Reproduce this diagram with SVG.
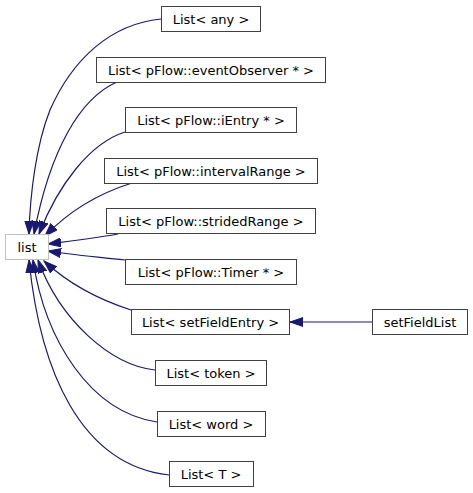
<svg xmlns="http://www.w3.org/2000/svg" width="473" height="493" viewBox="0 0 473 493">
<style>
.n rect{fill:#fff;stroke:#404040;stroke-width:1}
.n text{font-family:"DejaVu Sans",sans-serif;font-size:13px;fill:#000;text-anchor:middle}
.e path{fill:none;stroke:#191970;stroke-width:1.2}
</style>
<defs>
<marker id="ah" markerUnits="userSpaceOnUse" markerWidth="14" markerHeight="10" viewBox="0 0 14 10" refX="13" refY="5" orient="auto">
<path d="M13,5 L0,0.5 L0,9.5 z" fill="#191970" stroke="#191970" stroke-width="1"/>
</marker>
</defs>
<rect width="473" height="493" fill="#fff"/>
<g id="edges" class="e">
<path d="M161,19 C110,24 72,60 50,110 C36,145 30,195 29,234" marker-end="url(#ah)"/>
<path d="M117,82 C80,98 50,150 34,234" marker-end="url(#ah)"/>
<path d="M125,132 C90,143 58,185 39,234" marker-end="url(#ah)"/>
<path d="M132,183 C100,193 70,210 45,236" marker-end="url(#ah)"/>
<path d="M118,234 C95,238 72,241 48,244" marker-end="url(#ah)"/>
<path d="M125,260 C100,257 72,255 48,251" marker-end="url(#ah)"/>
<path d="M131,310 C100,300 70,285 44,261" marker-end="url(#ah)"/>
<path d="M155,370 C110,365 60,320 38,260" marker-end="url(#ah)"/>
<path d="M157,422 C90,412 45,340 33,260" marker-end="url(#ah)"/>
<path d="M169,475 C80,465 40,370 29,260" marker-end="url(#ah)"/>
<path d="M372,322 L290,322" marker-end="url(#ah)"/>
</g>
<g id="list" class="n"><rect x="5.5" y="234.5" width="43" height="25" style="stroke:#bfbfbf"/><text x="27" y="251.5">list</text></g>
<g id="list_any" class="n"><rect x="161.5" y="6.5" width="99" height="25"/><text x="211" y="23.5">List&lt; any &gt;</text></g>
<g id="list_eventObserver" class="n"><rect x="96.5" y="57.5" width="229" height="25"/><text x="211" y="74.5">List&lt; pFlow::eventObserver * &gt;</text></g>
<g id="list_iEntry" class="n"><rect x="125.5" y="107.5" width="171" height="25"/><text x="211" y="124.5">List&lt; pFlow::iEntry * &gt;</text></g>
<g id="list_intervalRange" class="n"><rect x="104.5" y="158.5" width="213" height="25"/><text x="211" y="175.5">List&lt; pFlow::intervalRange &gt;</text></g>
<g id="list_stridedRange" class="n"><rect x="106.5" y="208.5" width="209" height="25"/><text x="211" y="225.5">List&lt; pFlow::stridedRange &gt;</text></g>
<g id="list_Timer" class="n"><rect x="125.5" y="259.5" width="171" height="25"/><text x="211" y="276.5">List&lt; pFlow::Timer * &gt;</text></g>
<g id="list_setFieldEntry" class="n"><rect x="131.5" y="309.5" width="158" height="25"/><text x="210.5" y="326.5">List&lt; setFieldEntry &gt;</text></g>
<g id="setFieldList" class="n"><rect x="372.5" y="309.5" width="95" height="25"/><text x="420" y="326.5">setFieldList</text></g>
<g id="list_token" class="n"><rect x="155.5" y="360.5" width="111" height="25"/><text x="211" y="377.5">List&lt; token &gt;</text></g>
<g id="list_word" class="n"><rect x="157.5" y="411.5" width="108" height="25"/><text x="211" y="428.5">List&lt; word &gt;</text></g>
<g id="list_T" class="n"><rect x="169.5" y="461.5" width="84" height="25"/><text x="211" y="478.5">List&lt; T &gt;</text></g>
</svg>
